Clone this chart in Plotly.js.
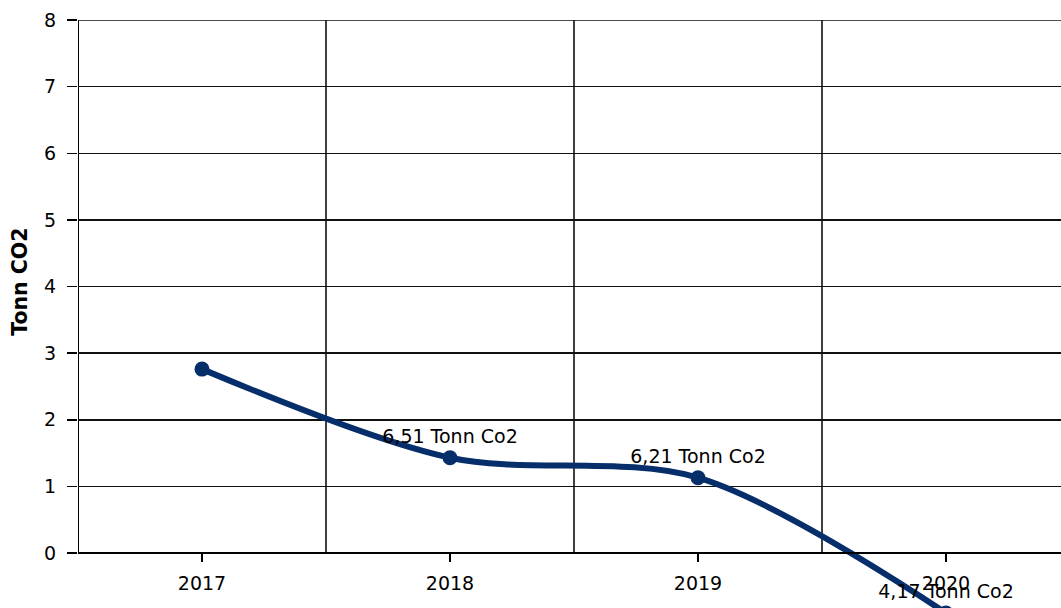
<!DOCTYPE html>
<html>
<head>
<meta charset="utf-8">
<script src="https://cdn.plot.ly/plotly-3.0.1.min.js"></script>
<style>html,body{margin:0;padding:0;background:#fff;overflow:hidden;}#chart{width:1061px;height:640px;}</style>
</head>
<body>
<div id="chart"></div>
<script>
const years = ['2017', '2018', '2019', '2020'];
const values = [2.76, 1.43, 1.13, -0.9];
const labels = ['', '6,51 Tonn Co2', '6,21 Tonn Co2', '4,17 Tonn Co2'];
const yTicks = [0, 1, 2, 3, 4, 5, 6, 7, 8];
const yTitle = 'Tonn CO2';

const navy = 'rgb(6,46,107)';
const font = 'DejaVu Sans, Verdana, sans-serif';
const fs = 19;

const trace = {
  x: years,
  y: values,
  text: labels,
  type: 'scatter',
  mode: 'lines+markers+text',
  textposition: 'top center',
  textfont: {family: font, size: fs, color: '#000'},
  cliponaxis: false,
  line: {color: navy, width: 6, shape: 'spline', smoothing: 0.9},
  marker: {color: navy, size: 15},
  hoverinfo: 'skip'
};

const yMax = yTicks[yTicks.length - 1];
const shapes = [];
const vlines = [-0.5, 0.5, 1.5, 2.5];
vlines.forEach((xv, i) => {
  shapes.push({type: 'line', xref: 'x', yref: 'y', x0: xv, x1: xv, y0: 0, y1: yMax,
    line: {color: '#000', width: i === 0 ? 2 : 1.5}, layer: 'below'});
});
shapes.push({type: 'line', xref: 'x', yref: 'y', x0: -0.5, x1: 3.5, y0: yMax, y1: yMax,
  line: {color: '#111', width: 1.5}, layer: 'below'});

const layout = {
  width: 1061,
  height: 640,
  margin: {l: 78, r: 0, t: 20, b: 0, pad: 0},
  paper_bgcolor: '#fff',
  plot_bgcolor: '#fff',
  showlegend: false,
  font: {family: font, size: fs, color: '#000'},
  xaxis: {
    type: 'category',
    range: [-0.5, 3.5 - 9 / 248],
    anchor: 'free',
    position: 87 / 620,
    showline: true,
    linecolor: '#000',
    linewidth: 2,
    ticks: 'outside',
    ticklen: 8,
    tickcolor: '#000',
    tickwidth: 1.5,
    ticklabelstandoff: 5,
    showgrid: false,
    zeroline: false,
    tickfont: {family: font, size: fs, color: '#000'},
    fixedrange: true
  },
  yaxis: {
    range: [-87 / 66.625, 8],
    tickvals: yTicks,
    ticktext: yTicks.map(String),
    ticks: 'outside',
    ticklen: 10,
    tickcolor: '#000',
    tickwidth: 1.5,
    ticklabelstandoff: 7,
    showgrid: true,
    gridcolor: '#111',
    gridwidth: 1.5,
    showline: false,
    zeroline: false,
    tickfont: {family: font, size: fs, color: '#000'},
    fixedrange: true
  },
  shapes: shapes,
  annotations: [{
    text: '<b>' + yTitle + '</b>',
    xref: 'paper', yref: 'y',
    x: -58 / 983, y: 4.07,
    xanchor: 'center', yanchor: 'middle',
    textangle: -90,
    showarrow: false,
    font: {family: font, size: 20.5, color: '#000'}
  }]
};

Plotly.newPlot('chart', [trace], layout, {displayModeBar: false, staticPlot: true});
</script>
</body>
</html>
